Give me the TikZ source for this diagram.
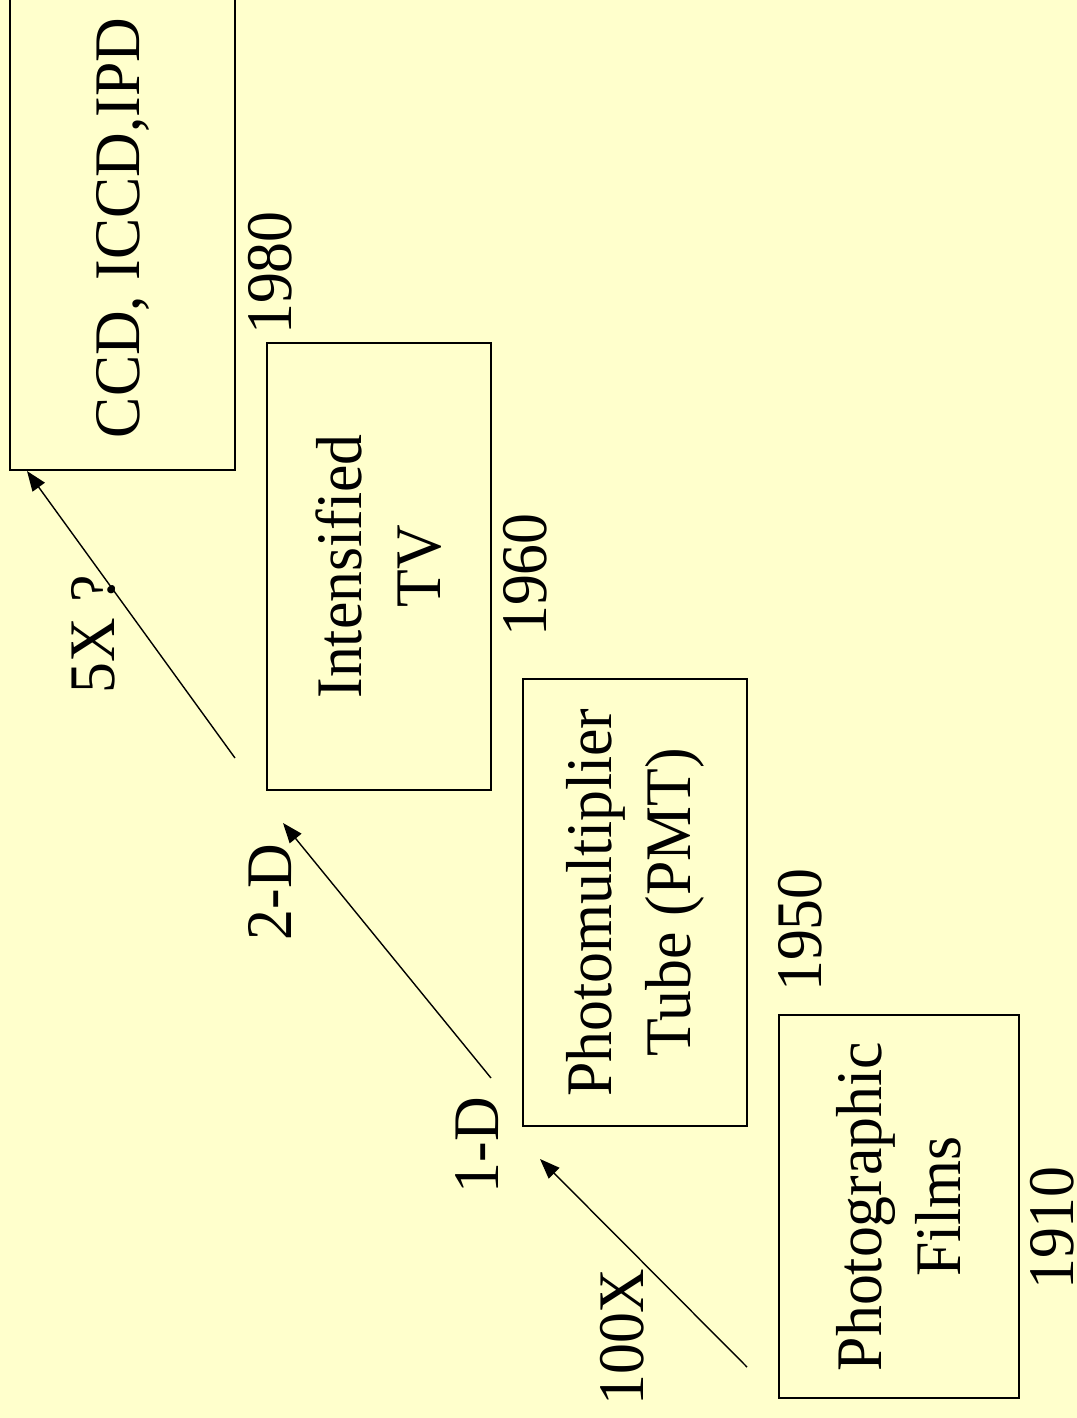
\documentclass[tikz,border=0pt]{standalone}
\usepackage{fontspec}
\setmainfont{Liberation Serif}[FakeStretch=0.95]
\usetikzlibrary{arrows.meta}
\definecolor{slideyellow}{RGB}{255,255,204}
\tikzset{
  devbox/.style={draw=black, line width=1pt, rotate=90, align=center, inner sep=0pt, font=\fontsize{37}{45}\selectfont},
  year/.style={rotate=90, inner sep=0pt, font=\fontsize{37}{45}\selectfont},
  gain/.style={rotate=90, inner sep=0pt, font=\fontsize{37}{45}\selectfont},
  arrow/.style={line width=0.8pt, -{Triangle[length=0.4cm,width=0.3cm]}}
}
\begin{document}
\begin{tikzpicture}[x=0.02cm,y=-0.02cm]
      \fill[slideyellow] (0,0) rectangle (1077,1418);
      \clip (0,0) rectangle (1077,1418);
      % detector boxes
      \node[devbox, minimum width=7.66cm, minimum height=4.8cm] (films) at (899,1206.5) {Photographic\\Films};
      \node[devbox, minimum width=8.94cm, minimum height=4.48cm] (pmt) at (635,902.5) {Photomultiplier\\Tube (PMT)};
      \node[devbox, minimum width=8.94cm, minimum height=4.48cm] (itv) at (379,566.5) {Intensified\\TV};
      \node[devbox, minimum width=9.68cm, minimum height=4.5cm] (ccd) at (122.5,228) {CCD, ICCD,IPD};
      % years
      \node[year] (y1910) at (1052,1228) {1910};
      \node[year] (y1950) at (800,930) {1950};
      \node[year] (y1960) at (525,575) {1960};
      \node[year] (y1980) at (270,273) {1980};
      % gains
      \node[gain] (g100) at (622,1337) {100X};
      \node[gain] (g1d) at (477,1145) {1-D};
      \node[gain] (g2d) at (270,892) {2-D};
      \node[gain] (g5x) at (93,634) {5X ?};
      % arrows
      \coordinate (a1s) at (747,1367);
      \coordinate (a1e) at (540,1159);
      \coordinate (a2s) at (491,1078);
      \coordinate (a2e) at (283,823);
      \coordinate (a3s) at (235,758);
      \coordinate (a3e) at (27,471);
      \coordinate (dot) at (112,588);
      \draw[arrow] (a1s)--(a1e);
      \draw[arrow] (a2s)--(a2e);
      \draw[arrow] (a3s)--(a3e);
      \fill (dot) circle (3);
\end{tikzpicture}
\end{document}
